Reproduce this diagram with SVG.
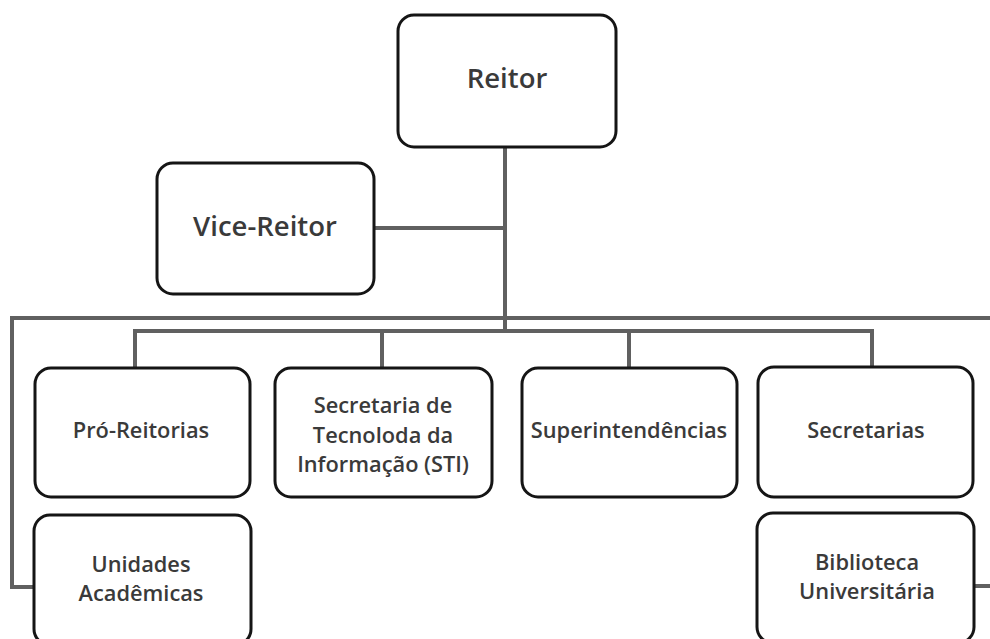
<svg xmlns="http://www.w3.org/2000/svg" width="990" height="639" viewBox="0 0 990 639">
<style>
.box{fill:#fff;stroke:#151515;stroke-width:3}
.ln{fill:none;stroke:#606060;stroke-width:4}
text{font-family:"Open Sans",Lato,"Liberation Sans",sans-serif;font-weight:600;fill:#3a3a3a;text-anchor:middle}
.big{font-size:27.5px}
.sm{font-size:21.8px}
</style>
<rect width="990" height="639" fill="#fff"/>
<g id="connectors">
<path class="ln" d="M505 147 V331"/>
<path class="ln" d="M374 228 H505"/>
<path class="ln" d="M975 586 H996 V318 H12 V587 H34"/>
<path class="ln" d="M135 368 V331 H872 V368"/>
<path class="ln" d="M382 331 V368"/>
<path class="ln" d="M629 331 V368"/>
</g>
<g id="reitor"><rect class="box" x="398" y="15" width="218" height="132" rx="16"/><text class="big" x="507" y="88">Reitor</text></g>
<g id="vice-reitor"><rect class="box" x="157" y="163" width="217" height="131" rx="16"/><text class="big" x="265" y="236">Vice-Reitor</text></g>
<g id="pro-reitorias"><rect class="box" x="35" y="368" width="215" height="129" rx="16"/><text class="sm" x="141" y="438">Pró-Reitorias</text></g>
<g id="sti"><rect class="box" x="275" y="368" width="217" height="129" rx="16"/><text class="sm" x="383" y="413">Secretaria de</text><text class="sm" x="383" y="443">Tecnoloda da</text><text class="sm" x="383" y="472">Informação (STI)</text></g>
<g id="superintendencias"><rect class="box" x="522" y="368" width="215" height="129" rx="16"/><text class="sm" x="629" y="438">Superintendências</text></g>
<g id="secretarias"><rect class="box" x="758" y="367" width="215" height="130" rx="16"/><text class="sm" x="866" y="438">Secretarias</text></g>
<g id="unidades"><rect class="box" x="34" y="515" width="217" height="130" rx="16"/><text class="sm" x="141" y="572">Unidades</text><text class="sm" x="141" y="601">Acadêmicas</text></g>
<g id="biblioteca"><rect class="box" x="757" y="513" width="217" height="130" rx="16"/><text class="sm" x="867" y="570">Biblioteca</text><text class="sm" x="867" y="599">Universitária</text></g>
</svg>
